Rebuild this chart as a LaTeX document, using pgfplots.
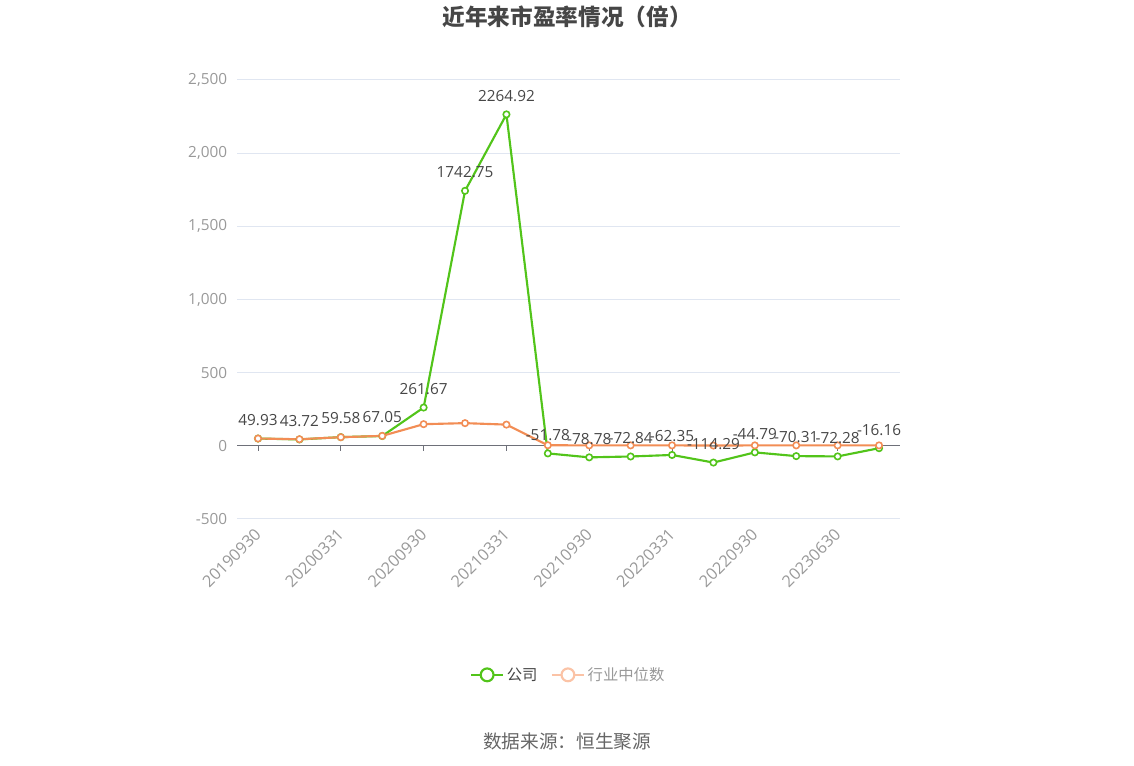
\documentclass[border=0pt]{standalone}
\usepackage{pgfplots}
\usepackage{pgfplotstable}
\pgfplotsset{compat=1.18}
\usepackage{fontspec}
\setmainfont{Open Sans}
\newfontfamily\cjk{Noto Sans CJK SC}

\definecolor{gs}{HTML}{52C41A}
\definecolor{og}{HTML}{F28D55}
\definecolor{ogl}{HTML}{FBC3A6}
\definecolor{gridc}{HTML}{E0E6F1}
\definecolor{axc}{HTML}{6E7079}
\definecolor{tickc}{HTML}{999999}
\definecolor{txt}{HTML}{464646}

% company P/E and industry median
\pgfplotstableread{
x co ind
0 49.93 50
1 43.72 45
2 59.58 59
3 67.05 68
4 261.67 148
5 1742.75 155
6 2264.92 145
7 -51.78 4
8 -78.78 3
9 -72.84 3
10 -62.35 3
11 -114.29 2
12 -44.79 3
13 -70.31 3
14 -72.28 3
15 -16.16 3
}\pedata

\begin{document}
\begin{tikzpicture}
\begin{axis}[
    at={(0,0)}, anchor=south west,
    scale only axis,
    width=496.8pt, height=329.25pt,
    xmin=-0.5, xmax=15.5,
    ymin=-500, ymax=2500,
    ytick={-500,0,...,2500},
    xtick={0,2,...,14},
    xticklabels={20190930,20200331,20200930,20210331,20210930,20220331,20220930,20230630},
    axis line style={draw=none},
    major tick length=0pt,
    ymajorgrids,
    grid style={gridc, line width=0.75pt},
    tick label style={font=\fontsize{11.5pt}{13pt}\selectfont, color=tickc},
    /pgf/number format/assume math mode=true,
    /pgf/number format/1000 sep={,},
    yticklabel style={anchor=east, inner sep=0pt, xshift=-7.5pt},
    xticklabel style={xshift=-3.3pt, yshift=-6pt, rotate=45, anchor=north east, inner sep=0pt,
        font=\fontsize{12.2pt}{14pt}\selectfont},
    clip=false,
    legend style={at={(axis description cs:0.5,-0.355)}, anchor=center,
        draw=none, legend columns=2, font=\cjk\fontsize{11.5pt}{13pt}\selectfont,
        /tikz/every even column/.append style={column sep=8pt}},
    legend cell align=left,
]
\draw[axc, line width=0.75pt] (axis cs:-0.5,0) -- (axis cs:15.5,0);
\draw[axc, line width=0.75pt] (axis cs:0,0) -- ([yshift=-3.75pt]axis cs:0,0);
\draw[axc, line width=0.75pt] (axis cs:2,0) -- ([yshift=-3.75pt]axis cs:2,0);
\draw[axc, line width=0.75pt] (axis cs:4,0) -- ([yshift=-3.75pt]axis cs:4,0);
\draw[axc, line width=0.75pt] (axis cs:6,0) -- ([yshift=-3.75pt]axis cs:6,0);
\draw[axc, line width=0.75pt] (axis cs:8,0) -- ([yshift=-3.75pt]axis cs:8,0);
\draw[axc, line width=0.75pt] (axis cs:10,0) -- ([yshift=-3.75pt]axis cs:10,0);
\draw[axc, line width=0.75pt] (axis cs:12,0) -- ([yshift=-3.75pt]axis cs:12,0);
\draw[axc, line width=0.75pt] (axis cs:14,0) -- ([yshift=-3.75pt]axis cs:14,0);

\addplot[gs, line width=1.6pt, mark=*, mark size=2.4pt,
    mark options={fill=white, draw=gs, line width=1.2pt},
    legend image code/.code={
        \draw[gs, line width=1.6pt] (0pt,0pt) -- (24pt,0pt);
        \draw[gs, line width=1.6pt, fill=white] (12pt,0pt) circle (4.8pt);}]
    table[x=x, y=co] {\pedata};
\addlegendentry{\textcolor{txt}{公司}}

\addplot[og, line width=1.6pt, mark=*, mark size=2.4pt,
    mark options={fill=white, draw=og, line width=1.2pt},
    legend image code/.code={
        \draw[ogl, line width=1.6pt] (0pt,0pt) -- (24pt,0pt);
        \draw[ogl, line width=1.6pt, fill=white] (12pt,0pt) circle (4.8pt);}]
    table[x=x, y=ind] {\pedata};
\addlegendentry{\textcolor{tickc}{行业中位数}}

\addplot[draw=none, mark=none, point meta=explicit,
    nodes near coords={\pgfmathprintnumber[fixed,fixed zerofill,precision=2,1000 sep={},assume math mode=true]{\pgfplotspointmeta}},
    every node near coord/.append style={anchor=south, inner sep=0pt, yshift=9.5pt,
        font=\fontsize{11.5pt}{13pt}\selectfont, color=txt}]
    table[x=x, y=co, meta=co] {\pedata};
\end{axis}
\node[font=\cjk\bfseries\fontsize{17pt}{20pt}\selectfont, color=txt] at (247.25pt,376.5pt) {近年来市盈率情况（倍）};
\node[font=\cjk\fontsize{14pt}{16pt}\selectfont, color=black!60] at (247.25pt,-166.5pt) {数据来源：恒生聚源};
\pgfresetboundingbox
\path[use as bounding box] (-178pt,-185.25pt) rectangle (672.5pt,389.25pt);
\end{tikzpicture}
\end{document}
